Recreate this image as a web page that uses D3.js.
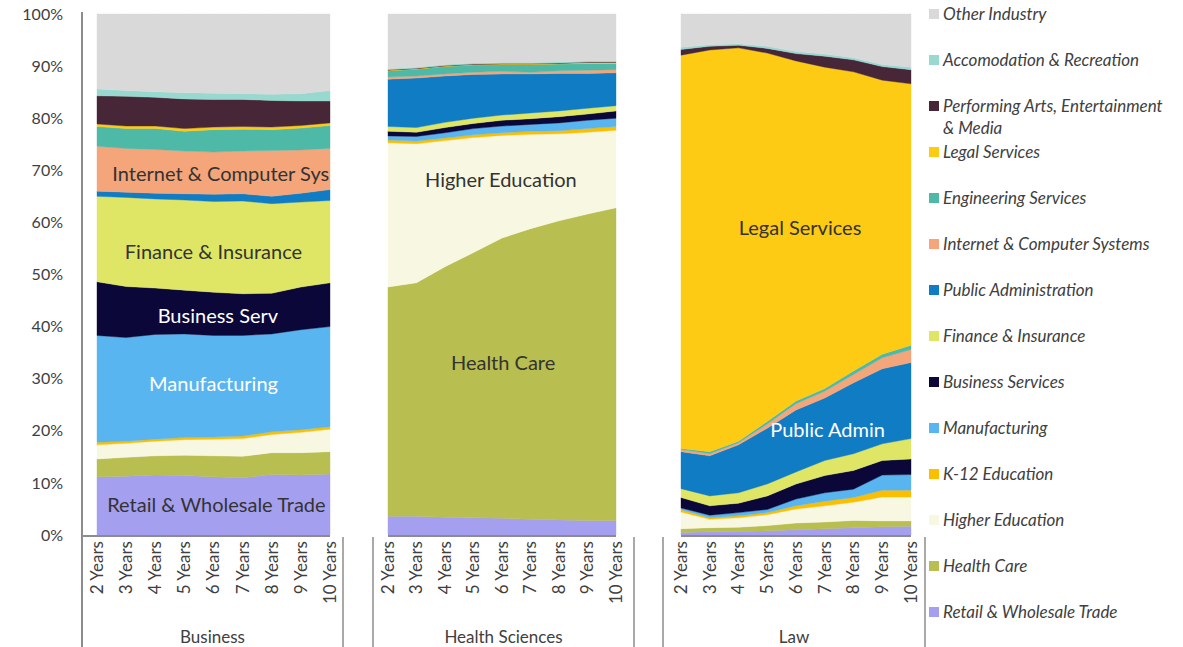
<!DOCTYPE html>
<html>
<head>
<meta charset="utf-8">
<script src="https://cdn.jsdelivr.net/npm/d3@7"></script>
<style>
	body { margin: 0; background: #fff; }
	svg { display: block; font-family: Lato, 'Open Sans', sans-serif; }
</style>
</head>
<body>
<div id="chart"></div>
<script>
const years = ['2 Years', '3 Years', '4 Years', '5 Years', '6 Years', '7 Years', '8 Years', '9 Years', '10 Years'];
const groups = ['Business', 'Health Sciences', 'Law'];

// stacking order, bottom to top
const industries = [
	'Retail & Wholesale Trade',
	'Health Care',
	'Higher Education',
	'K-12 Education',
	'Manufacturing',
	'Business Services',
	'Finance & Insurance',
	'Public Administration',
	'Internet & Computer Systems',
	'Engineering Services',
	'Legal Services',
	'Performing Arts, Entertainment & Media',
	'Accomodation & Recreation',
	'Other Industry'
];

const industryColors = [
	'#a59ff0', '#b8be4f', '#f8f8e2', '#fcbf00', '#58b5ef', '#0b0839', '#dfe665',
	'#0f7cc3', '#f4a57a', '#4fb9a8', '#fdca14', '#472638', '#97d9cf', '#d9d9d9'
];

// share of graduates (%) per industry, one row per industry in the order above
const businessShares = [
	[11.2, 11.3, 11.5, 11.4, 11.2, 11.0, 11.6, 11.5, 11.7],
	[3.4, 3.6, 3.7, 3.9, 4.0, 4.1, 4.2, 4.3, 4.3],
	[2.7, 2.7, 2.8, 3.0, 3.2, 3.4, 3.5, 3.9, 4.3],
	[0.5, 0.4, 0.4, 0.4, 0.4, 0.5, 0.5, 0.5, 0.5],
	[20.5, 19.9, 20.1, 19.9, 19.5, 19.3, 18.8, 19.2, 19.2],
	[10.3, 9.8, 8.9, 8.4, 8.3, 8.0, 7.8, 8.2, 8.4],
	[16.4, 17.1, 17.1, 17.3, 17.4, 17.8, 17.2, 16.3, 15.8],
	[1.0, 1.0, 1.1, 1.2, 1.4, 1.4, 1.4, 1.7, 2.1],
	[8.6, 8.4, 8.4, 8.2, 8.1, 8.2, 8.8, 8.3, 7.9],
	[3.8, 3.8, 4.0, 3.8, 4.3, 4.2, 4.0, 4.2, 4.4],
	[0.5, 0.5, 0.5, 0.5, 0.5, 0.5, 0.5, 0.5, 0.5],
	[5.4, 5.7, 5.5, 5.7, 5.3, 5.2, 5.1, 4.7, 4.2],
	[1.3, 1.1, 1.1, 1.2, 1.2, 1.1, 1.2, 1.4, 2.0],
	[14.4, 14.7, 14.9, 15.1, 15.2, 15.3, 15.4, 15.3, 14.7]
];

const healthShares = [
	[3.6, 3.6, 3.4, 3.3, 3.2, 3.0, 2.9, 2.8, 2.8],
	[44.0, 44.8, 48.1, 50.9, 53.8, 55.8, 57.4, 58.8, 60.0],
	[27.7, 26.7, 24.2, 22.1, 19.7, 18.1, 16.7, 15.7, 14.9],
	[0.5, 0.5, 0.5, 0.5, 0.5, 0.6, 0.6, 0.7, 0.7],
	[0.8, 0.9, 1.0, 1.2, 1.3, 1.3, 1.5, 1.6, 1.6],
	[0.9, 0.8, 1.0, 1.0, 1.1, 1.1, 1.2, 1.2, 1.4],
	[0.9, 0.9, 1.0, 1.0, 1.0, 1.1, 1.1, 1.1, 1.0],
	[9.1, 9.5, 8.9, 8.4, 7.9, 7.5, 7.2, 6.7, 6.3],
	[0.4, 0.4, 0.4, 0.4, 0.5, 0.3, 0.5, 0.6, 0.6],
	[1.2, 1.3, 1.4, 1.4, 1.3, 1.5, 1.3, 1.3, 1.2],
	[0.1, 0.1, 0.1, 0.1, 0.1, 0.1, 0.1, 0.2, 0.2],
	[0.1, 0.1, 0.1, 0.1, 0.1, 0.1, 0.1, 0.1, 0.1],
	[0.2, 0.2, 0.2, 0.2, 0.2, 0.2, 0.2, 0.2, 0.2],
	[10.5, 10.2, 9.7, 9.4, 9.3, 9.3, 9.2, 9.0, 9.0]
];

const lawShares = [
	[0.5, 0.6, 0.7, 0.8, 1.0, 1.2, 1.4, 1.6, 1.7],
	[0.7, 0.8, 0.8, 1.0, 1.3, 1.3, 1.4, 1.1, 1.0],
	[3.2, 1.6, 1.8, 2.1, 2.7, 3.1, 3.5, 4.6, 4.6],
	[0.5, 0.3, 0.4, 0.4, 0.6, 0.9, 0.9, 1.3, 1.3],
	[0.3, 0.5, 0.6, 0.6, 1.3, 1.6, 1.6, 2.9, 3.0],
	[2.0, 1.8, 1.8, 2.6, 2.9, 3.3, 3.6, 2.8, 3.0],
	[1.7, 1.9, 2.0, 2.3, 2.3, 2.9, 3.2, 3.2, 3.9],
	[7.1, 7.7, 9.2, 10.7, 11.9, 12.0, 13.6, 14.4, 14.6],
	[0.4, 0.4, 0.4, 0.8, 1.2, 1.3, 1.6, 2.1, 2.5],
	[0.2, 0.4, 0.3, 0.5, 0.5, 0.5, 0.7, 0.7, 0.8],
	[75.5, 77.1, 75.5, 70.7, 65.3, 61.7, 57.4, 52.6, 50.2],
	[1.1, 0.7, 0.5, 0.9, 1.4, 2.1, 2.3, 2.6, 2.7],
	[0.4, 0.3, 0.3, 0.4, 0.4, 0.4, 0.4, 0.4, 0.5],
	[6.4, 5.9, 5.7, 6.2, 7.2, 7.7, 8.4, 9.7, 10.2]
];

const percentTicks = [0, 0.1, 0.2, 0.3, 0.4, 0.5, 0.6, 0.7, 0.8, 0.9, 1];

// labels written inside the areas: panel, year position, share, text colour
const areaLabels = [
	{ group: 0, text: 'Internet & Computer Sys', at: 4.25, pct: 0.693, light: false },
	{ group: 0, text: 'Finance & Insurance', at: 4.0, pct: 0.543, light: false },
	{ group: 0, text: 'Business Serv', at: 4.15, pct: 0.42, light: true },
	{ group: 0, text: 'Manufacturing', at: 4.0, pct: 0.29, light: true },
	{ group: 0, text: 'Retail & Wholesale Trade', at: 4.1, pct: 0.058, light: false },
	{ group: 1, text: 'Higher Education', at: 3.96, pct: 0.681, light: false },
	{ group: 1, text: 'Health Care', at: 4.04, pct: 0.33, light: false },
	{ group: 2, text: 'Legal Services', at: 4.14, pct: 0.589, light: false },
	{ group: 2, text: 'Public Admin', at: 5.1, pct: 0.202, light: true }
];

const width = 1183;
const height = 647;
const axisColor = '#8c8c8c';
const textColor = '#404040';

const panels = [
	{ shares: businessShares, inner: [97, 330], outer: [82, 343] },
	{ shares: healthShares, inner: [388, 616], outer: [373, 634] },
	{ shares: lawShares, inner: [681, 911], outer: [663, 925] }
];

const y = d3.scaleLinear().domain([0, 1]).range([535, 14]);
const color = d3.scaleOrdinal().domain(industries).range(industryColors);

const svg = d3.select('#chart')
	.append('svg')
	.attr('width', width)
	.attr('height', height);

// y axis line and percent labels
function renderYAxis() {
	svg.append('line')
		.attr('x1', 82).attr('x2', 82)
		.attr('y1', 12).attr('y2', height)
		.attr('stroke', axisColor)
		.attr('stroke-width', 2);
	svg.append('g')
		.selectAll('text')
		.data(percentTicks)
		.enter()
		.append('text')
		.attr('x', 63)
		.attr('y', d => y(d))
		.attr('dy', '0.35em')
		.attr('text-anchor', 'end')
		.attr('font-size', 16)
		.attr('fill', textColor)
		.text(d3.format('.0%'));
}

// one stacked area block per graduate group
function renderPanel(panel, gi) {
	const x = d3.scalePoint().domain(years).range(panel.inner);
	const rows = years.map((yr, j) => {
		const row = { year: yr };
		industries.forEach((ind, i) => { row[ind] = panel.shares[i][j]; });
		return row;
	});
	const series = d3.stack().keys(industries).offset(d3.stackOffsetExpand)(rows);
	const area = d3.area()
		.x(d => x(d.data.year))
		.y0(d => y(d[0]))
		.y1(d => y(d[1]));

	const g = svg.append('g').attr('class', 'panel-' + gi);
	g.selectAll('path')
		.data(series)
		.enter()
		.append('path')
		.attr('d', area)
		.attr('fill', d => color(d.key))
		.attr('stroke', d => color(d.key))
		.attr('stroke-width', 0.4);

	// baseline under the areas
	g.append('line')
		.attr('x1', gi === 0 ? 82 : panel.inner[0])
		.attr('x2', panel.inner[1])
		.attr('y1', 536).attr('y2', 536)
		.attr('stroke', axisColor)
		.attr('stroke-width', 2);

	// group separators
	const seps = gi === 0 ? [panel.outer[1]] : panel.outer;
	g.selectAll('.sep')
		.data(seps)
		.enter()
		.append('line')
		.attr('class', 'sep')
		.attr('x1', d => d).attr('x2', d => d)
		.attr('y1', 537).attr('y2', height)
		.attr('stroke', axisColor)
		.attr('stroke-width', 1.5);

	// rotated year labels
	g.selectAll('.tick')
		.data(years)
		.enter()
		.append('text')
		.attr('class', 'tick')
		.attr('transform', d => `translate(${x(d)},541) rotate(-90)`)
		.attr('dy', '0.35em')
		.attr('text-anchor', 'end')
		.attr('font-size', 17)
		.attr('fill', textColor)
		.text(d => d);

	g.append('text')
		.attr('x', (panel.outer[0] + panel.outer[1]) / 2)
		.attr('y', 637)
		.attr('dy', '0.35em')
		.attr('text-anchor', 'middle')
		.attr('font-size', 17)
		.attr('fill', textColor)
		.text(groups[gi]);

	g.selectAll('.area-label')
		.data(areaLabels.filter(l => l.group === gi))
		.enter()
		.append('text')
		.attr('class', 'area-label')
		.attr('x', d => panel.inner[0] + d.at * x.step())
		.attr('y', d => y(d.pct))
		.attr('dy', '0.35em')
		.attr('text-anchor', 'middle')
		.attr('font-size', 20)
		.attr('fill', d => (d.light ? '#ffffff' : '#333333'))
		.text(d => d.text);
}

// legend on the right, top entry is the top of the stack
function renderLegend() {
	const breaks = { 'Performing Arts, Entertainment & Media': ['Performing Arts, Entertainment', '& Media'] };
	const items = svg.append('g')
		.attr('class', 'legend')
		.selectAll('g')
		.data(industries.slice().reverse())
		.enter()
		.append('g')
		.attr('transform', (d, i) => `translate(929,${14 + 46 * i})`);
	items.append('rect')
		.attr('x', 0).attr('y', -5)
		.attr('width', 10).attr('height', 10)
		.attr('fill', d => color(d));
	items.append('text')
		.attr('x', 14)
		.attr('font-size', 17)
		.attr('font-style', 'italic')
		.attr('fill', textColor)
		.selectAll('tspan')
		.data(d => breaks[d] || [d])
		.enter()
		.append('tspan')
		.attr('x', 14)
		.attr('y', (d, i) => i * 22)
		.attr('dy', '0.35em')
		.text(d => d);
}

renderYAxis();
panels.forEach(renderPanel);
renderLegend();
</script>
</body>
</html>
